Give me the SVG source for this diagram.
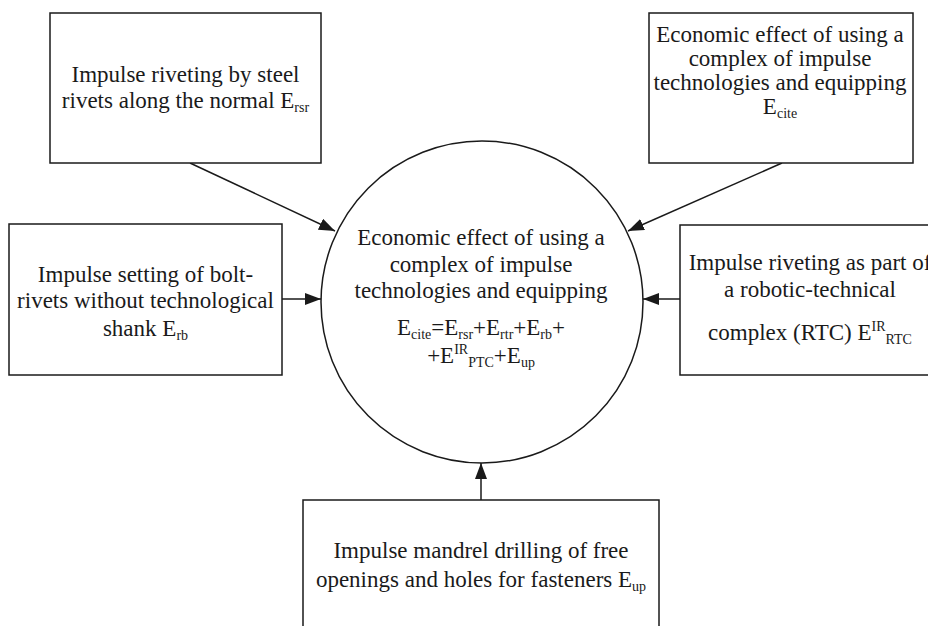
<svg xmlns="http://www.w3.org/2000/svg" width="928" height="626" viewBox="0 0 928 626">
<defs>
<style>
.box{fill:#fff;stroke:#1a1a1a;stroke-width:1.5}
text{font-family:"Liberation Serif","Times New Roman",serif;font-size:23px;fill:#1a1a1a;text-anchor:middle}
.s{font-size:14px}
.c{stroke:#1a1a1a;stroke-width:1.5;fill:none;marker-end:url(#ah)}
</style>
<marker id="ah" markerUnits="userSpaceOnUse" markerWidth="16" markerHeight="12" viewBox="0 0 16 12" refX="16" refY="6" orient="auto">
<path d="M0,0 L16,6 L0,12 z" fill="#1a1a1a"/>
</marker>
</defs>
<rect width="928" height="626" fill="#fff"/>
<g id="connectors">
<line class="c" x1="190" y1="163" x2="335" y2="231"/>
<line class="c" x1="782" y1="163" x2="628" y2="231"/>
<line class="c" x1="282" y1="299" x2="321" y2="299"/>
<line class="c" x1="680" y1="299" x2="643" y2="299"/>
<line class="c" x1="481" y1="500" x2="481" y2="463"/>
</g>
<g id="center">
<circle cx="482" cy="302" r="161" fill="none" stroke="#1a1a1a" stroke-width="1.5"/>
<text x="481" y="245">Economic effect of using a</text>
<text x="481" y="272">complex of impulse</text>
<text x="481" y="298">technologies and equipping</text>
<text x="481" y="335">E<tspan class="s" dy="4">cite</tspan><tspan dy="-4">=E</tspan><tspan class="s" dy="4">rsr</tspan><tspan dy="-4">+E</tspan><tspan class="s" dy="4">rtr</tspan><tspan dy="-4">+E</tspan><tspan class="s" dy="4">rb</tspan><tspan dy="-4">+</tspan></text>
<text x="481" y="363">+E<tspan class="s" dy="-9">IR</tspan><tspan class="s" dy="13">PTC</tspan><tspan dy="-4">+E</tspan><tspan class="s" dy="4">up</tspan></text>
</g>
<g id="n1">
<rect class="box" x="50" y="13" width="271" height="150"/>
<text x="185.5" y="82">Impulse riveting by steel</text>
<text x="185.5" y="108">rivets along the normal E<tspan class="s" dy="4">rsr</tspan></text>
</g>
<g id="n2">
<rect class="box" x="649" y="13" width="264" height="150"/>
<text x="780" y="42">Economic effect of using a</text>
<text x="780" y="66">complex of impulse</text>
<text x="780" y="90">technologies and equipping</text>
<text x="780" y="114">E<tspan class="s" dy="4">cite</tspan></text>
</g>
<g id="n3">
<rect class="box" x="9" y="224" width="273" height="151"/>
<text x="145.5" y="282">Impulse setting of bolt-</text>
<text x="145.5" y="308">rivets without technological</text>
<text x="145.5" y="336">shank E<tspan class="s" dy="4">rb</tspan></text>
</g>
<g id="n4">
<rect class="box" x="680" y="225" width="260" height="150"/>
<text x="810" y="270">Impulse riveting as part of</text>
<text x="810" y="297">a robotic-technical</text>
<text x="810" y="340">complex (RTC) E<tspan class="s" dy="-9">IR</tspan><tspan class="s" dy="13">RTC</tspan></text>
</g>
<g id="n5">
<rect class="box" x="303" y="500" width="356" height="140"/>
<text x="481" y="558">Impulse mandrel drilling of free</text>
<text x="481" y="587">openings and holes for fasteners E<tspan class="s" dy="4">up</tspan></text>
</g>
</svg>
